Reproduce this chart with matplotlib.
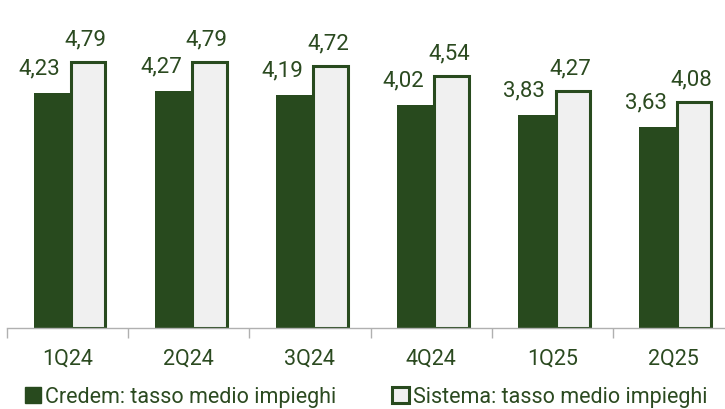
import numpy as np
import matplotlib.pyplot as plt
from matplotlib.patches import Patch

# Tasso medio impieghi per trimestre (%)
quarters = ["1Q24", "2Q24", "3Q24", "4Q24", "1Q25", "2Q25"]
credem = [4.23, 4.27, 4.19, 4.02, 3.83, 3.63]
sistema = [4.79, 4.79, 4.72, 4.54, 4.27, 4.08]

DARK = "#284a1e"
LIGHT = "#f0f0f0"
TEXT = "#2b4a20"
AXIS = "#b0b0b0"

plt.rcParams["font.family"] = ["Roboto", "DejaVu Sans"]


def fmt(v):
    return f"{v:.2f}".replace(".", ",")


fig = plt.figure(figsize=(7.25, 4.1), dpi=100)
# axes runs a little past the right edge, like the exported slide
ax = fig.add_axes([7 / 725, 81 / 410, 727 / 725, 329 / 410])

x = np.arange(len(quarters))
w = 0.30
x_dark = x - 0.13
x_light = x + 0.17

ax.bar(x_dark, credem, width=w, color=DARK, zorder=2)
ax.bar(x_light, sistema, width=w - 0.015, color=LIGHT, edgecolor=DARK,
       linewidth=2.2, zorder=2)

for xi, v in zip(x_dark, credem):
    ax.annotate(fmt(v), (xi - 0.1, v), xytext=(0, 10.5), textcoords="offset points",
                ha="center", va="bottom", fontsize=16, color=TEXT)
for xi, v in zip(x_light, sistema):
    ax.annotate(fmt(v), (xi - 0.02, v), xytext=(0, 9), textcoords="offset points",
                ha="center", va="bottom", fontsize=16, color=TEXT)

ax.set_xlim(-0.5, len(quarters) - 0.5)
ax.set_ylim(0, 329 / 55.5)
ax.set_yticks([])
ax.set_xticks(x)
ax.set_xticklabels(quarters, fontsize=15.5, color=TEXT)
ax.set_xticks(np.arange(-0.5, len(quarters)), minor=True)
ax.tick_params(axis="x", which="major", length=0, pad=14)
ax.tick_params(axis="x", which="minor", length=7, color=AXIS, width=1)

for s in ["top", "right", "left"]:
    ax.spines[s].set_visible(False)
ax.spines["bottom"].set_color(AXIS)
ax.spines["bottom"].set_linewidth(1)
ax.patch.set_alpha(0)

handles = [
    Patch(facecolor=DARK, edgecolor=DARK, label="Credem: tasso medio impieghi"),
    Patch(facecolor=LIGHT, edgecolor=DARK, linewidth=2.2,
          label="Sistema: tasso medio impieghi"),
]
leg = fig.legend(handles=handles, loc="center", bbox_to_anchor=(0.505, 0.03),
                 ncol=2, frameon=False, fontsize=15.5, handlelength=0.75,
                 handleheight=0.75, handletextpad=0.2, columnspacing=2.6)
for t in leg.get_texts():
    t.set_color(TEXT)

fig.savefig("out.png", dpi=100)
